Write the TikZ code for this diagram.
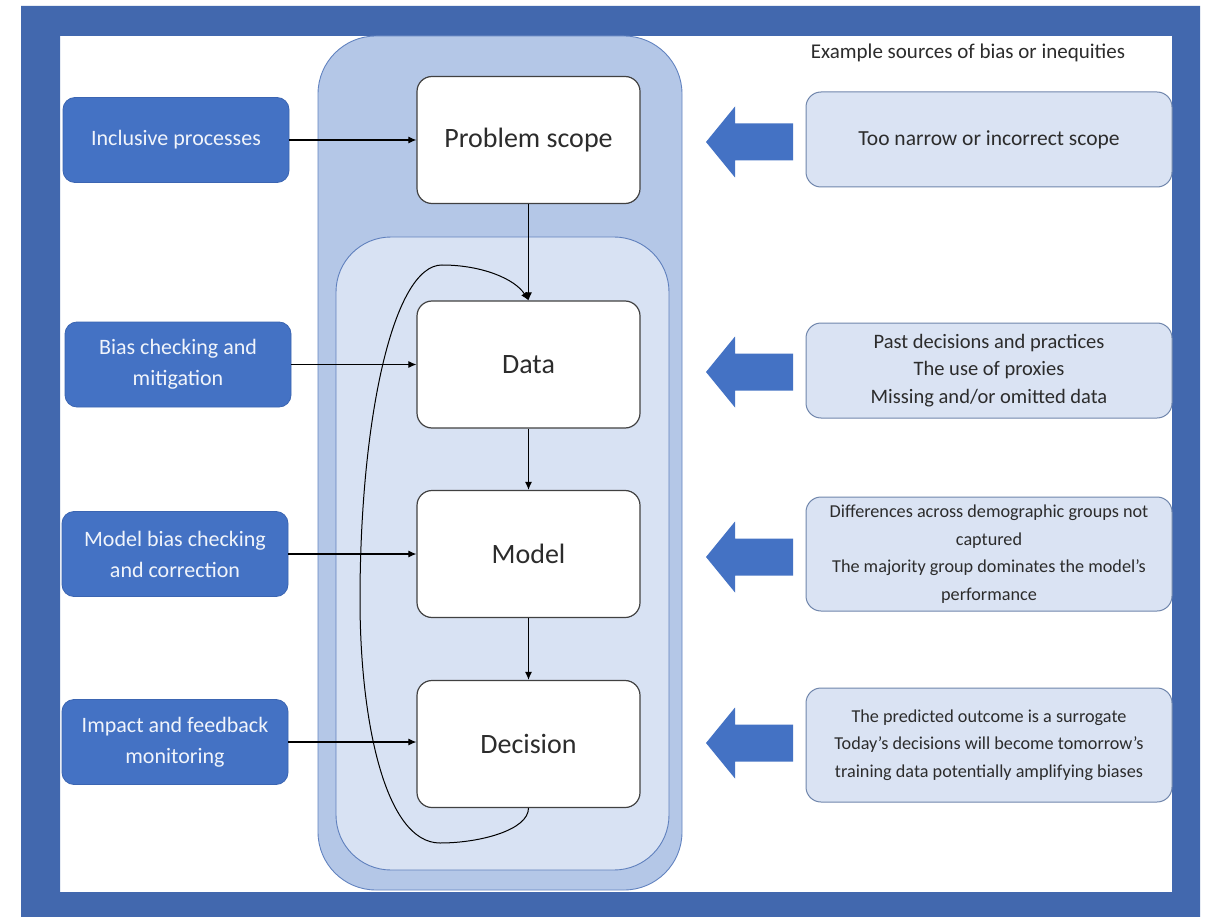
\documentclass[tikz,border=0pt]{standalone}
\usepackage{fontspec}
\setmainfont{Carlito}
\usetikzlibrary{arrows.meta}

\definecolor{framecol}{HTML}{4268AE}
\definecolor{actionfill}{HTML}{4472C4}
\definecolor{actionline}{HTML}{3B65B2}
\definecolor{outerfill}{HTML}{B4C7E7}
\definecolor{outerline}{HTML}{6283C0}
\definecolor{innerfill}{HTML}{D8E2F3}
\definecolor{innerline}{HTML}{5F80BD}
\definecolor{srcfill}{HTML}{DAE3F3}
\definecolor{srcline}{HTML}{7086AC}
\definecolor{txtdark}{HTML}{2C2C2C}
\definecolor{txtlight}{HTML}{F0F4FB}

\tikzset{
  stagebox/.style={draw=txtdark!90, line width=1.2pt, fill=white, rounded corners=15pt,
    minimum width=223pt, minimum height=127pt, inner sep=0pt, text=txtdark,
    font=\fontsize{28}{34}\selectfont},
  actionbox/.style={draw=actionline, line width=0.8pt, fill=actionfill, rounded corners=12pt,
    minimum width=226pt, minimum height=85pt, inner sep=0pt, text=txtlight, align=center,
    font=\fontsize{22}{31}\selectfont},
  srcbox/.style={draw=srcline, line width=1pt, fill=srcfill, rounded corners=15pt,
    minimum width=366pt, minimum height=95pt, inner sep=0pt, text=txtdark, align=center,
    font=\fontsize{20.5}{27.5}\selectfont},
  srcsmall/.style={srcbox, minimum height=114pt, font=\fontsize{18.2}{27.5}\selectfont},
  conn/.style={draw=black, line width=1.1pt, -{Latex[length=8pt,width=7pt]}},
  loopline/.style={draw=black, line width=1pt, -{Latex[length=8pt,width=7pt]}},
  pics/bigarrow/.style={code={
    \fill[actionfill] (0,0) -- (29,-35.5) -- (29,-18.5) -- (87,-18.5) -- (87,18.5)
      -- (29,18.5) -- (29,35.5) -- cycle;
  }}
}

\begin{document}
\begin{tikzpicture}[x=1pt,y=-1pt]
  \useasboundingbox (0,0) rectangle (1218,917);
  \fill[white] (0,0) rectangle (1218,917);

  % frame around the whole figure
  \fill[framecol, even odd rule] (21,6) rectangle (1200,917) (60,36) rectangle (1172,892);

  % pipeline column and its inner modelling loop region
  \path[fill=outerfill, draw=outerline, line width=0.9pt, rounded corners=58pt]
    (318,36) rectangle (682,890);
  \path[fill=innerfill, draw=innerline, line width=0.9pt, rounded corners=55pt]
    (336,237) rectangle (669,870);

  % pipeline stages
  \node[stagebox] (scope)    at (528.5,140) {Problem scope};
  \node[stagebox] (data)     at (528.5,364.5) {Data};
  \node[stagebox] (model)    at (528.5,554) {Model};
  \node[stagebox] (decision) at (528.5,744) {Decision};

  % mitigation actions on the left
  \node[actionbox] (incl)   at (176,140) {Inclusive processes};
  \node[actionbox] (biasck) at (178,364.5) {Bias checking and\\mitigation};
  \node[actionbox] (modck)  at (175,554) {Model bias checking\\and correction};
  \node[actionbox] (impact) at (175,742) {Impact and feedback\\monitoring};

  % sources of bias on the right
  \node[font=\fontsize{21}{26}\selectfont, text=txtdark, anchor=base] (title) at (968,59)
    {Example sources of bias or inequities};
  \node[srcbox, font=\fontsize{21.5}{27.5}\selectfont] (src1) at (989,139.5) {Too narrow or incorrect scope};
  \node[srcbox] (src2) at (989,370.5) {Past decisions and practices\\The use of proxies\\Missing and/or omitted data};
  \node[srcsmall] (src3) at (989,554) {Differences across demographic groups not\\captured\\The majority group dominates the model's\\performance};
  \node[srcsmall] (src4) at (989,745) {The predicted outcome is a surrogate\\Today’s decisions will become tomorrow’s\\training data potentially amplifying biases};

  % block arrows pointing from each source towards the pipeline
  \pic at (706,142) {bigarrow};
  \pic at (706,372) {bigarrow};
  \pic at (706,557) {bigarrow};
  \pic at (706,743) {bigarrow};

  % flow through the pipeline
  \draw[conn] (scope.south) -- (data.north);
  \draw[conn] (data.south) -- (model.north);
  \draw[conn] (model.south) -- (decision.north);

  % actions feeding each stage
  \draw[conn] (incl.east) -- (incl.east -| scope.west);
  \draw[conn] (biasck.east) -- (biasck.east -| data.west);
  \draw[conn] (modck.east) -- (modck.east -| model.west);
  \draw[conn] (impact.east) -- (impact.east -| decision.west);

  % feedback loop from decisions back to data
  \draw[loopline] (decision.south) .. controls (528.5,830) and (480,843) .. (440,843)
    .. controls (385,843) and (360,720) .. (360,600)
    .. controls (360,420) and (393,265) .. (442,265)
    .. controls (482,265) and (515,279) .. (data.north);
\end{tikzpicture}
\end{document}
